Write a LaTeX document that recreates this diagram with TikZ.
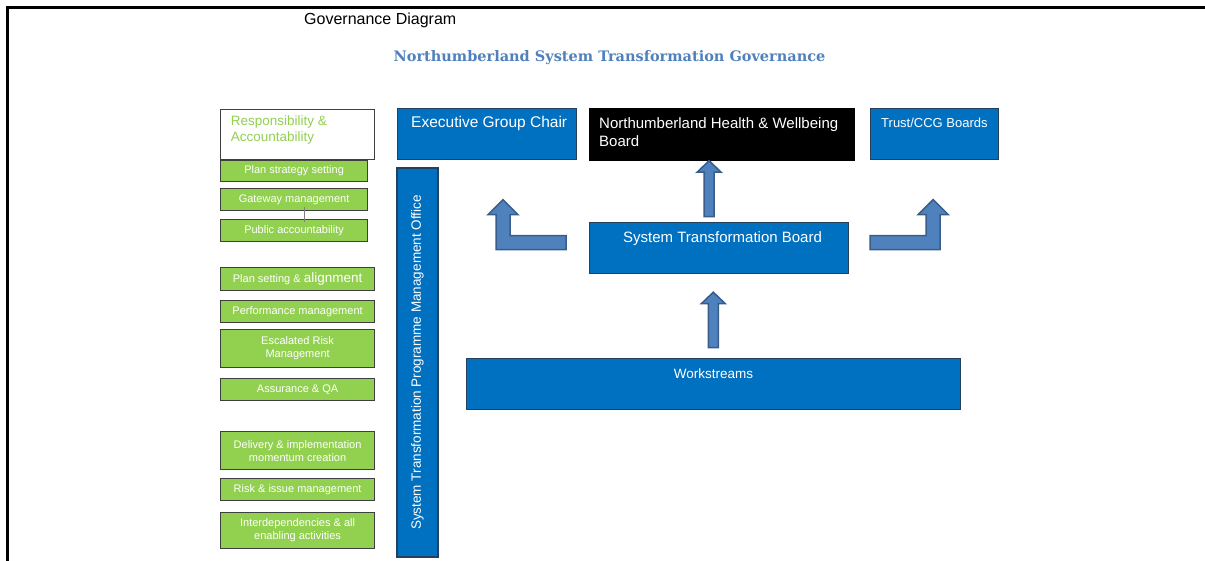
\documentclass[tikz,border=0pt]{standalone}
\usepackage{fontspec}
\setmainfont{Liberation Sans}
\newfontfamily\headfont{DejaVu Serif}
\usepackage{tikz}
\usetikzlibrary{calc}
\usepackage{xcolor}

\definecolor{stblue}{HTML}{0070C0}
\definecolor{boxedge}{HTML}{24405E}
\definecolor{leafgreen}{HTML}{92D050}
\definecolor{leafedge}{HTML}{3F3F3F}
\definecolor{arrowfill}{HTML}{4F81BD}
\definecolor{arrowedge}{HTML}{385D8A}
\definecolor{headblue}{HTML}{4F81BD}

% fat upward arrow: shaft foot #1, tip #2
\newcommand{\blockup}[2]{%
  \draw[blockarrow] ([xshift=-5pt]#1) -- ([xshift=-5pt,yshift=-11.5pt]#2)
    -- ([xshift=-12pt,yshift=-11.5pt]#2) -- (#2) -- ([xshift=12pt,yshift=-11.5pt]#2)
    -- ([xshift=5pt,yshift=-11.5pt]#2) -- ([xshift=5pt]#1) -- cycle;}

\begin{document}
\begin{tikzpicture}[
    x=1pt, y=-1pt,
    bluebox/.style={rectangle, draw=boxedge, line width=1.2pt, fill=stblue, anchor=north west, inner sep=0pt},
    leaf/.style={rectangle, draw=leafedge, line width=1.2pt, fill=leafgreen, text=white, anchor=north west,
        align=center, inner sep=0pt, font=\fontsize{11}{13}\selectfont},
    boxtext/.style={text=white, inner sep=0pt, align=left, font=\fontsize{15.5}{17.8}\selectfont},
    blockarrow/.style={fill=arrowfill, draw=arrowedge, line width=1.5pt, line join=miter}
]
\useasboundingbox (0,0) rectangle (1205,561);
\draw[line width=2.5pt] (1205,7.5) -- (7.5,7.5) -- (7.5,561);

\node[anchor=base west, inner sep=0pt, font=\fontsize{16}{18}\selectfont] (gdiag) at (304,25) {Governance Diagram};
\node[anchor=base, inner sep=0pt, text=headblue, font=\headfont\bfseries\fontsize{14.5}{16}\selectfont] (title) at (609.5,61.7)
    {Northumberland System Transformation Governance};

% top row of boards
\node[bluebox, minimum width=179pt, minimum height=51pt,
    label={[boxtext, anchor=base west, xshift=14pt, yshift=-20pt]north west:Executive Group Chair}] (egc) at (397,108) {};
\node[bluebox, fill=black, draw=black, minimum width=265pt, minimum height=51pt,
    label={[boxtext, font=\fontsize{15}{17.8}\selectfont, anchor=base west, xshift=10pt, yshift=-38.2pt]north west:Northumberland Health \& Wellbeing\\Board}] (nhwb) at (589,108.5) {};
\node[bluebox, minimum width=128pt, minimum height=51pt,
    label={[boxtext, font=\fontsize{13}{15}\selectfont, anchor=base west, xshift=11pt, yshift=-20pt]north west:Trust/CCG Boards}] (trust) at (870,108) {};

\node[bluebox, minimum width=259pt, minimum height=51pt,
    label={[boxtext, font=\fontsize{15}{17.8}\selectfont, anchor=base west, xshift=34pt, yshift=-20.5pt]north west:System Transformation Board}] (stb) at (589,222) {};
\node[bluebox, minimum width=494pt, minimum height=51pt,
    label={[boxtext, font=\fontsize{13.5}{16}\selectfont, anchor=base, yshift=-20pt]north:Workstreams}] (ws) at (466,358) {};

\node[bluebox, anchor=center, rotate=90, minimum width=389pt, minimum height=41pt, text=white,
    font=\fontsize{13.5}{16}\selectfont] (pmo) at (417.5,362.5) {System Transformation Programme Management Office};

% responsibilities column
\node[rectangle, draw=leafedge, line width=1.2pt, fill=white, anchor=north west, inner sep=0pt,
    minimum width=154pt, minimum height=50pt,
    label={[text=leafgreen, inner sep=0pt, align=left, font=\fontsize{13.5}{15.5}\selectfont,
        anchor=base west, xshift=10.7pt, yshift=-32.5pt]north west:Responsibility \&\\Accountability}] (resp) at (220,109) {};

\node[leaf, minimum width=147pt, minimum height=21pt] (pss) at (220,160) {Plan strategy setting};
\node[leaf, minimum width=147pt, minimum height=22pt] (gw) at (220,188) {Gateway management};
\node[leaf, minimum width=147pt, minimum height=22pt] (pub) at (220,219) {Public accountability};
\draw[gray, line width=1pt] ([xshift=10.5pt,yshift=4pt]gw.south) -- ([xshift=10.5pt,yshift=-3pt]pub.north);

\node[leaf, minimum width=154pt, minimum height=23pt] (psa) at (220,267)
    {Plan setting \& {\fontsize{13.5}{15}\selectfont alignment}};
\node[leaf, minimum width=154pt, minimum height=22pt] (perf) at (220,300) {Performance management};
\node[leaf, minimum width=154pt, minimum height=38pt] (esc) at (220,329) {Escalated Risk\\Management};
\node[leaf, minimum width=154pt, minimum height=22pt] (qa) at (220,378) {Assurance \& QA};

\node[leaf, minimum width=154pt, minimum height=38pt] (deliv) at (220,431) {Delivery \& implementation\\momentum creation};
\node[leaf, minimum width=154pt, minimum height=22pt] (risk) at (220,478) {Risk \& issue management};
\node[leaf, minimum width=154pt, minimum height=36pt] (inter) at (220,512) {Interdependencies \& all\\enabling activities};

% arrows
\coordinate (u1) at ([xshift=-10pt,yshift=5.3pt]stb.north);
\coordinate (u1t) at (u1 |- nhwb.south);
\blockup{u1}{u1t}
\coordinate (u2) at ([xshift=-0.3pt,yshift=10.3pt]ws.north);
\coordinate (u2t) at ($(u2 |- stb.south)+(0,18)$);
\blockup{u2}{u2t}

\coordinate (l0) at ([xshift=-23pt,yshift=5.5pt]stb.west);
\draw[blockarrow, shift={(l0)}] (0,-7) -- (-56,-7) -- (-56,-28) -- (-48,-28) -- (-63,-43)
    -- (-78,-28) -- (-70,-28) -- (-70,7) -- (0,7) -- cycle;
\coordinate (r0) at ([xshift=21pt,yshift=5.5pt]stb.east);
\draw[blockarrow, shift={(r0)}] (0,-7) -- (56,-7) -- (56,-28) -- (48,-28) -- (63,-43)
    -- (78,-28) -- (70,-28) -- (70,7) -- (0,7) -- cycle;
\end{tikzpicture}
\end{document}
